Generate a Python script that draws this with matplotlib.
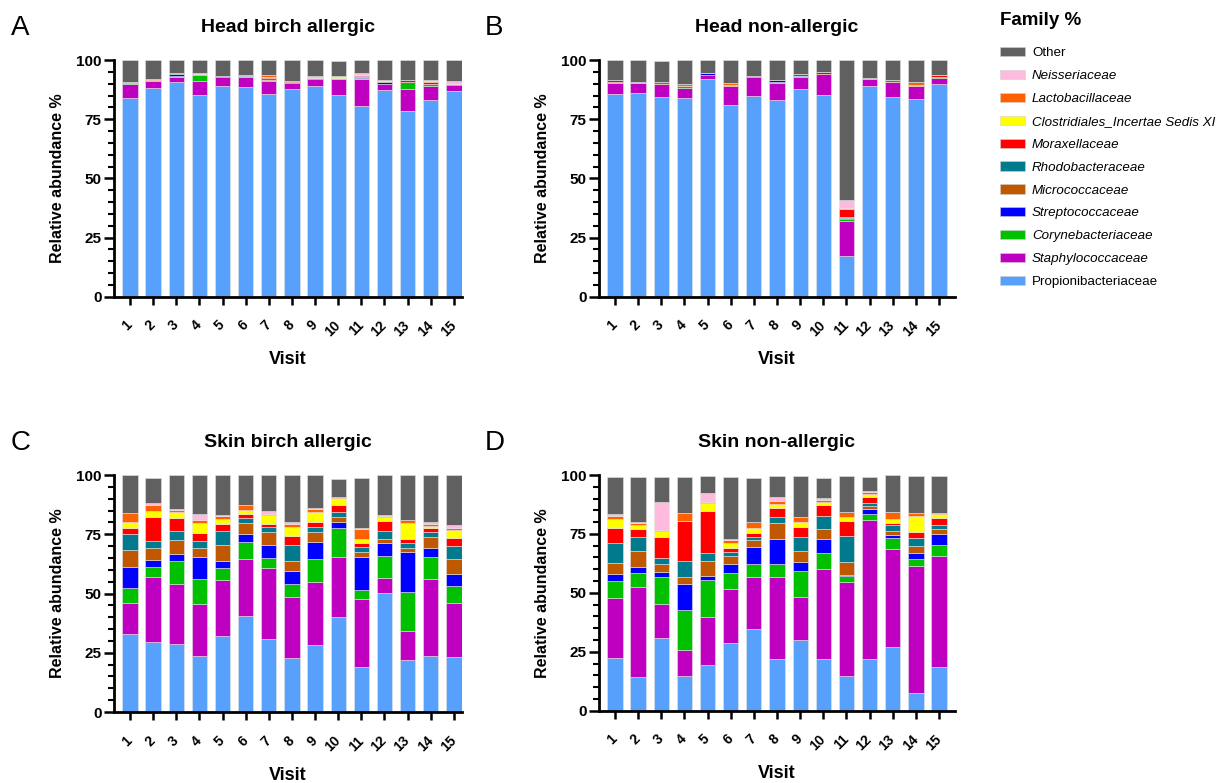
import matplotlib.pyplot as plt
import numpy as np
from matplotlib.ticker import MultipleLocator
from matplotlib.patches import Patch

plt.rcParams['font.family'] = ['Liberation Sans', 'DejaVu Sans']

visits = [str(i) for i in range(1, 16)]

# family order, bottom of the stack first
families = ['Propionibacteriaceae', 'Staphylococcaceae', 'Corynebacteriaceae',
            'Streptococcaceae', 'Micrococcaceae', 'Rhodobacteraceae', 'Moraxellaceae',
            'Clostridiales_Incertae Sedis XI', 'Lactobacillaceae', 'Neisseriaceae', 'Other']
colors = ['#57A0FC', '#C000C0', '#00C000', '#0000FF', '#C05800', '#007A8C',
          '#FF0000', '#FFFF00', '#FF6000', '#FFBBDD', '#606060']
italic = [False, True, True, True, True, True, True, True, True, True, False]

# one row per visit, values in the family order above (%)
head_allergic = [
    [84.1, 5.9, 0.3, 0, 0.5, 0, 0, 0, 0, 0, 9.2],
    [88.3, 2.8, 0, 0, 0.4, 0, 0, 0, 0.3, 0, 8.2],
    [90.6, 2.4, 0.3, 0.8, 0, 0.3, 0, 0, 0, 0, 5.6],
    [85.1, 6.0, 2.6, 0, 0.4, 0, 0, 0, 0, 0.3, 5.6],
    [88.9, 3.8, 0, 0.4, 0, 0, 0, 0, 0, 0, 6.9],
    [88.6, 4.1, 0.5, 0, 0, 0.3, 0, 0, 0, 0, 6.5],
    [85.5, 5.6, 0.6, 0, 0.5, 0.4, 0.2, 0, 0.8, 0, 6.4],
    [87.6, 2.5, 0.3, 0.5, 0, 0, 0.4, 0, 0, 0, 8.7],
    [89.0, 3.1, 0, 0.4, 0, 0, 0, 0, 0, 0.7, 6.8],
    [85.2, 6.9, 0.4, 0, 0, 0, 0, 0.6, 0, 0, 6.3],
    [80.7, 11.3, 0.5, 0.5, 0, 0.4, 0.3, 0, 0, 0.7, 5.6],
    [87.3, 2.6, 0, 0.8, 0.3, 0, 0, 0.7, 0, 0, 8.3],
    [78.3, 9.3, 3.2, 0, 0, 0, 0.6, 0, 0, 0, 8.6],
    [83.1, 5.8, 1.1, 0, 0, 0, 0.5, 0, 0.6, 0.6, 8.3],
    [86.8, 2.6, 0, 0.6, 0, 0, 0, 0, 0, 1.0, 9.0],
]

head_non = [
    [85.5, 4.6, 0.4, 0.3, 0, 0, 0.6, 0, 0, 0, 8.6],
    [86.2, 3.9, 0, 0, 0.6, 0, 0, 0, 0, 0, 9.3],
    [84.5, 5.2, 0, 0, 0.9, 0, 0, 0, 0, 0, 8.8],
    [83.9, 4.4, 0.9, 0, 0, 0, 0, 0, 0.7, 0, 10.1],
    [91.8, 2.0, 0, 0.6, 0, 0, 0, 0, 0, 0, 5.6],
    [81.1, 7.9, 0, 0, 0.4, 0, 0, 0, 0.7, 0, 9.9],
    [84.6, 8.2, 0, 0.6, 0, 0, 0, 0, 0, 0, 6.6],
    [83.2, 6.9, 0.5, 0.9, 0, 0, 0, 0, 0, 0, 8.5],
    [87.7, 5.3, 0.3, 0, 0, 0.6, 0, 0, 0, 0, 6.1],
    [85.2, 9.0, 0, 0, 0, 0, 0.6, 0, 0, 0, 5.2],
    [17.3, 14.7, 0.8, 0.6, 0, 0.3, 3.2, 0, 0.4, 3.5, 59.2],
    [88.9, 2.9, 0, 0, 0, 0.5, 0, 0, 0, 0, 7.7],
    [84.2, 6.6, 0, 0, 0.6, 0, 0, 0.3, 0, 0, 8.3],
    [83.4, 5.8, 0, 0, 0.4, 0, 0, 0, 1.0, 0, 9.4],
    [90.0, 2.4, 0.6, 0, 0, 0, 0.7, 0, 0, 0, 6.3],
]

skin_allergic = [
    [32.8, 13.1, 6.4, 8.9, 7.2, 6.6, 2.5, 2.8, 3.5, 0, 16.2],
    [29.5, 27.3, 4.2, 3.0, 5.2, 3.0, 9.9, 2.9, 2.2, 0.8, 10.6],
    [28.8, 25.3, 9.5, 3.1, 5.9, 3.6, 5.5, 2.5, 1.0, 0.3, 14.5],
    [23.6, 22.0, 10.7, 9.0, 3.9, 3.0, 3.2, 4.2, 1.4, 2.4, 16.6],
    [32.2, 23.5, 4.9, 3.0, 7.0, 5.9, 2.7, 2.2, 1.2, 0.7, 16.7],
    [40.5, 23.9, 7.5, 3.1, 4.6, 2.4, 1.4, 1.8, 2.1, 0, 12.7],
    [30.9, 30.0, 4.2, 5.4, 5.4, 2.0, 1.3, 3.9, 0.5, 1.2, 15.2],
    [22.6, 26.1, 5.2, 5.5, 4.2, 6.7, 3.8, 4.0, 1.4, 0.7, 19.8],
    [28.3, 26.4, 9.7, 7.2, 4.3, 2.2, 2.1, 4.3, 1.2, 0.5, 13.8],
    [39.9, 25.5, 12.4, 2.2, 2.4, 2.1, 2.8, 2.9, 0.4, 0, 7.6],
    [18.8, 28.7, 4.1, 13.8, 2.0, 2.4, 1.5, 1.8, 4.1, 0.6, 21.1],
    [50.1, 6.6, 9.3, 5.2, 1.8, 3.5, 4.2, 1.4, 0.6, 0.6, 16.7],
    [21.8, 12.2, 16.6, 16.9, 1.7, 2.1, 1.6, 6.7, 1.6, 0, 18.8],
    [23.5, 32.6, 9.4, 3.6, 4.9, 1.9, 1.7, 0.9, 1.0, 0.5, 20.0],
    [23.1, 22.8, 7.3, 4.9, 6.3, 5.8, 3.2, 3.4, 1.0, 1.0, 21.2],
]

skin_non = [
    [22.2, 25.6, 7.1, 3.2, 4.7, 8.2, 6.7, 3.8, 1.1, 0.7, 15.7],
    [14.4, 38.2, 5.7, 2.7, 6.6, 6.1, 3.2, 1.7, 0.9, 0.4, 19.1],
    [31.0, 14.3, 11.6, 1.9, 3.6, 2.5, 8.8, 2.4, 0.4, 11.9, 10.9],
    [14.9, 11.0, 17.0, 11.0, 2.7, 7.0, 17.0, 0, 3.4, 0, 15.3],
    [19.2, 20.4, 15.7, 2.0, 6.3, 3.2, 17.9, 3.3, 0.7, 3.8, 7.2],
    [28.6, 22.9, 6.8, 3.8, 3.7, 1.7, 1.7, 2.1, 1.1, 0.4, 26.5],
    [34.7, 22.2, 5.5, 6.9, 3.1, 1.3, 1.8, 1.9, 2.7, 0, 18.5],
    [21.9, 34.7, 5.5, 10.6, 6.8, 2.7, 3.9, 1.5, 1.4, 1.8, 8.8],
    [30.0, 18.2, 11.1, 3.8, 4.5, 6.0, 4.3, 2.0, 2.1, 0, 17.6],
    [21.9, 38.1, 6.8, 5.9, 4.5, 5.4, 4.5, 1.4, 0.7, 0.9, 8.6],
    [14.6, 39.9, 2.5, 0.7, 5.5, 10.9, 6.2, 1.7, 2.2, 0, 15.4],
    [21.8, 59.1, 2.4, 2.4, 1.3, 1.0, 2.5, 1.4, 0.7, 0.5, 6.1],
    [26.9, 41.6, 4.8, 1.1, 2.0, 2.2, 0.9, 2.0, 2.9, 0, 15.6],
    [7.4, 54.1, 2.7, 2.8, 3.0, 3.4, 2.3, 6.9, 1.1, 0, 15.9],
    [18.4, 47.4, 4.4, 4.6, 2.3, 1.7, 2.8, 1.7, 0.4, 0, 15.9],
]

W, H = 1224, 783
fig = plt.figure(figsize=(W / 100, H / 100), dpi=100)


def panel(px_left, px_right, px_bottom, px_top, data, title, letter, letter_xy, xmax):
    ax = fig.add_axes([px_left / W, 1 - px_bottom / H,
                       (px_right - px_left) / W, (px_bottom - px_top) / H])
    vals = np.array(data).T
    x = np.arange(1, len(visits) + 1)
    bottom = np.zeros(len(visits))
    for i in range(len(families)):
        ax.bar(x, vals[i], bottom=bottom, width=0.66, color=colors[i],
               edgecolor='#e4e4e4', linewidth=0.4)
        bottom += vals[i]
    ax.set_xlim(0.31, xmax)
    ax.set_ylim(0, 100)
    ax.set_xticks(x)
    ax.set_xticklabels(visits, rotation=45, ha='right', va='center',
                       rotation_mode='anchor', fontweight='bold', fontsize=10)
    ax.set_yticks([0, 25, 50, 75, 100])
    ax.yaxis.set_minor_locator(MultipleLocator(5))
    for lab in ax.get_yticklabels():
        lab.set_fontweight('bold')
        lab.set_fontsize(11)
    ax.tick_params(axis='y', which='major', length=7, width=1.8, pad=2)
    ax.tick_params(axis='y', which='minor', length=4, width=1.5)
    ax.tick_params(axis='x', length=6, width=1.8, pad=13)
    for s in ['top', 'right']:
        ax.spines[s].set_visible(False)
    for s in ['left', 'bottom']:
        ax.spines[s].set_linewidth(2)
    ax.set_ylabel('Relative abundance %', fontsize=11.5, fontweight='bold', labelpad=8)
    ax.set_xlabel('Visit', fontsize=13, fontweight='bold', labelpad=9)
    ax.set_title(title, fontsize=14, fontweight='bold', pad=20)
    fig.text(letter_xy[0] / W, 1 - letter_xy[1] / H, letter, fontsize=20,
             ha='left', va='center')
    return ax


panel(114, 462, 296.7, 60, head_allergic, 'Head birch allergic', 'A', (11, 28), 15.35)
panel(599, 955, 296.7, 60, head_non, 'Head non-allergic', 'B', (485, 28), 15.69)
panel(114, 462, 712, 475, skin_allergic, 'Skin birch allergic', 'C', (11, 443), 15.35)
panel(599, 955, 710.7, 475, skin_non, 'Skin non-allergic', 'D', (485, 443), 15.69)

# legend, top entry first
handles = []
for i in range(len(families) - 1, -1, -1):
    handles.append(Patch(facecolor=colors[i], edgecolor='#d0d0d0', linewidth=0.4,
                         label=families[i]))
leg = fig.legend(handles=handles, loc='upper left', bbox_to_anchor=(1000 / W, 1 - 12 / H),
                 frameon=False, fontsize=9.6, title='Family %', alignment='left',
                 title_fontproperties={'weight': 'bold', 'size': 13.5},
                 handlelength=1.9, handleheight=0.7, handletextpad=0.5,
                 labelspacing=0.79, borderpad=0, borderaxespad=0)
leg._legend_box.sep = 13
for t, h in zip(leg.get_texts(), range(len(families) - 1, -1, -1)):
    if italic[h]:
        t.set_fontstyle('italic')

fig.savefig('out.png', dpi=100)
